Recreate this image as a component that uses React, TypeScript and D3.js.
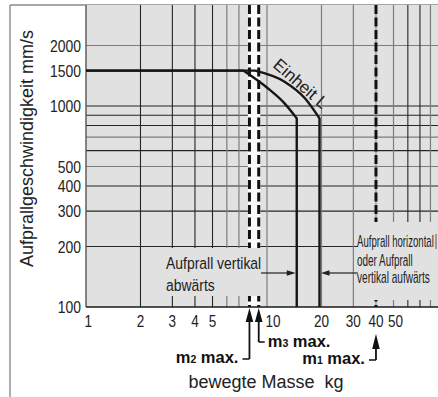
import React from "react";
import * as d3 from "d3";

// ---- data ----
const massTicks = [1, 2, 3, 4, 5, 10, 20, 30, 40, 50];
const speedTicks = [100, 200, 300, 400, 500, 1000, 1500, 2000];
const massGridDark = [2, 3, 4, 5, 60, 70];
const massGridLight = [6, 7, 10, 20, 30, 50, 80];
const speedGridDark = [200, 300, 400, 600, 800, 900, 1000];
const speedGridLight = [500, 700, 2000];
const limitSubs = ["2", "3", "1"];
const limitMasses = [8, 9, 40];
const innerMass = [1, 7.4, 10.1, 12.5, 14.6];
const innerSpeed = [1500, 1500, 1225, 1031, 868];
const outerMass = [1, 8.6, 12.5, 16.2, 19.5];
const outerSpeed = [1500, 1500, 1321, 1092, 868];

const sans = "'Liberation Sans', Arial, Helvetica, sans-serif";

function NText(props: {
  x: number;
  y: number;
  size: number;
  sx?: number;
  anchor?: string;
  dy?: string;
  children: React.ReactNode;
}) {
  const { x, y, size, sx = 0.82, anchor = "start", dy, children } = props;
  return (
    <text
      transform={`translate(${x},${y}) scale(${sx},1)`}
      textAnchor={anchor}
      dy={dy}
      fontFamily={sans}
      fontSize={size}
      fill="#222"
    >
      {children}
    </text>
  );
}

export default function App() {
  const W = 438, H = 397;
  const left = 86, top = 5, bottom = 307, right = 438;
  const x = d3.scaleLog().domain([1, 100]).range([left, left + 2 * 181]);
  const y = d3.scaleLog().domain([100, 1000]).range([bottom, bottom - 201]);
  const bend = d3
    .line<[number, number]>()
    .x((d) => x(d[0]))
    .y((d) => y(d[1]))
    .curve(d3.curveMonotoneX);
  const curvePath = (ms: number[], ss: number[]) => {
    const pts = ms.slice(1).map((m, i) => [m, ss[i + 1]] as [number, number]);
    const last = ms[ms.length - 1];
    const b = (bend(pts) || "").replace(/^M/, "L");
    return `M${x(ms[0])},${y(ss[0])}` + b + `L${x(last)},${y(100)}`;
  };
  const dark = "#262626";
  const light = "#7d7d7d";
  const bg = "#e1e1e2";
  const tickDx: Record<number, number> = { 1: 2.3, 10: 6, 50: 2 };

  const innerEnd = x(innerMass[innerMass.length - 1]);
  const outerEnd = x(outerMass[outerMass.length - 1]);
  const arrowY = 273;
  const boxRX = x(30) + 4.5;

  const limitLayout = [
    { tip: 308, base: 322, stemEnd: 359, hook: -7, side: "left", ty: 363 },
    { tip: 308, base: 322, stemEnd: 342, hook: 6, side: "right", ty: 346.5 },
    { tip: 334, base: 349, stemEnd: 360, hook: -7, side: "left", ty: 364 },
  ];

  return (
    <svg
      width={W}
      height={H}
      style={{ position: "absolute", left: 0, top: 0, background: "#fff" }}
    >
      {/* frame */}
      <line x1={10} y1={top} x2={right} y2={top} stroke="#8a8a8a" strokeWidth={1.4} />
      <line x1={10} y1={top} x2={10} y2={H} stroke="#8a8a8a" strokeWidth={1.4} />
      <rect x={left} y={top} width={right - left} height={bottom - top} fill={bg} />

      {/* grid */}
      {speedGridLight.map((v) => (
        <line key={"yl" + v} x1={left} x2={right} y1={y(v)} y2={y(v)} stroke={light} strokeWidth={1.2} />
      ))}
      {speedGridDark.map((v) => (
        <line key={"yd" + v} x1={left} x2={right} y1={y(v)} y2={y(v)} stroke={dark} strokeWidth={1.1} />
      ))}
      {massGridLight.map((v) => (
        <line key={"xl" + v} x1={x(v)} x2={x(v)} y1={top} y2={bottom} stroke={light} strokeWidth={1.2} />
      ))}
      {massGridDark.map((v) => (
        <line key={"xd" + v} x1={x(v)} x2={x(v)} y1={top} y2={bottom} stroke={dark} strokeWidth={1.1} />
      ))}

      {/* dashed limit lines */}
      <rect
        x={x(limitMasses[0]) - 1.6}
        y={top}
        width={x(limitMasses[1]) - x(limitMasses[0]) + 3.2}
        height={bottom - top}
        fill="#fafafa"
      />
      <line x1={x(limitMasses[2])} x2={x(limitMasses[2])} y1={top} y2={bottom} stroke={light} strokeWidth={1} />
      {limitMasses.map((m) => (
        <line
          key={"dash" + m}
          x1={x(m)}
          x2={x(m)}
          y1={top}
          y2={bottom}
          stroke="#111"
          strokeWidth={3}
          strokeDasharray="9 3.5"
        />
      ))}

      {/* annotation boxes */}
      <rect x={x(2) + 4} y={y(200) + 1.5} width={x(10) - 3 - (x(2) + 4)} height={296 - (y(200) + 1.5)} fill={bg} />
      <rect x={boxRX} y={222} width={right - boxRX} height={300 - 222} fill={bg} />

      {/* axes lines */}
      <line x1={left} x2={left} y1={top} y2={bottom} stroke="#555" strokeWidth={1.4} />
      <line x1={left} x2={right} y1={bottom} y2={bottom} stroke="#1a1a1a" strokeWidth={1.6} />

      {/* curves */}
      <path d={curvePath(innerMass, innerSpeed)} fill="none" stroke="#161616" strokeWidth={2.4} strokeLinejoin="round" />
      <path d={curvePath(outerMass, outerSpeed)} fill="none" stroke="#161616" strokeWidth={2.4} strokeLinejoin="round" />

      {/* Einheit L */}
      <text
        transform={`translate(297,88) rotate(41)`}
        textAnchor="middle"
        fontFamily={sans}
        fontSize={17}
        fill="#222"
      >
        Einheit L
      </text>

      {/* left box text + arrow */}
      <NText x={166} y={269} size={17}>Aufprall vertikal</NText>
      <NText x={166} y={291} size={17}>abwärts</NText>
      <line x1={261} x2={innerEnd - 8} y1={arrowY} y2={arrowY} stroke="#222" strokeWidth={1.2} />
      <path
        d={`M${innerEnd - 1},${arrowY}L${innerEnd - 10},${arrowY - 2.8}L${innerEnd - 10},${arrowY + 2.8}Z`}
        fill="#222"
      />

      {/* right box text + arrow */}
      <line x1={boxRX} x2={outerEnd + 8} y1={arrowY} y2={arrowY} stroke="#222" strokeWidth={1.2} />
      <path
        d={`M${outerEnd + 1.5},${arrowY}L${outerEnd + 10},${arrowY - 2.8}L${outerEnd + 10},${arrowY + 2.8}Z`}
        fill="#222"
      />
      <line x1={436} x2={436} y1={234} y2={249} stroke="#555" strokeWidth={1} />
      <NText x={357} y={247} size={16} sx={0.6}>Aufprall horizontal</NText>
      <NText x={357} y={265.5} size={16} sx={0.62}>oder Aufprall</NText>
      <NText x={357} y={283} size={16} sx={0.63}>vertikal aufwärts</NText>

      {/* y tick labels */}
      {speedTicks.map((v) => (
        <NText key={"yt" + v} x={81} y={y(v)} dy="0.36em" anchor="end" size={17}>
          {v}
        </NText>
      ))}
      {/* x tick labels */}
      {massTicks.map((v) => (
        <NText key={"xt" + v} x={x(v) + (tickDx[v] || 0)} y={327} anchor="middle" size={16.5}>
          {v}
        </NText>
      ))}

      {/* limit arrows */}
      {limitMasses.map((m, i) => {
        const L = limitLayout[i];
        const cx = x(m);
        return (
          <g key={"lim" + m}>
            <path d={`M${cx},${L.tip}L${cx - 3.8},${L.base}L${cx + 3.8},${L.base}Z`} fill="#111" />
            <line x1={cx} x2={cx} y1={L.base - 1} y2={L.stemEnd} stroke="#111" strokeWidth={1.8} />
            <line x1={cx} x2={cx + L.hook} y1={L.stemEnd} y2={L.stemEnd} stroke="#111" strokeWidth={1.5} />
            <text
              x={L.side === "left" ? cx + L.hook - 4 : cx + L.hook + 3}
              y={L.ty}
              textAnchor={L.side === "left" ? "end" : "start"}
              fontFamily={sans}
              fontWeight="bold"
              fontSize={16.5}
              fill="#111"
            >
              m
              <tspan fontSize={10.5}>{limitSubs[i]}</tspan>
              <tspan> max.</tspan>
            </text>
          </g>
        );
      })}

      {/* axis titles */}
      <text
        x={266}
        y={388}
        textAnchor="middle"
        fontFamily={sans}
        fontSize={18}
        fill="#222"
        style={{ whiteSpace: "pre" }}
      >
        {"bewegte Masse  kg"}
      </text>
      <text
        transform={`translate(33,148.5) rotate(-90)`}
        textAnchor="middle"
        fontFamily={sans}
        fontSize={18}
        fill="#222"
      >
        Aufprallgeschwindigkeit mm/s
      </text>
    </svg>
  );
}
